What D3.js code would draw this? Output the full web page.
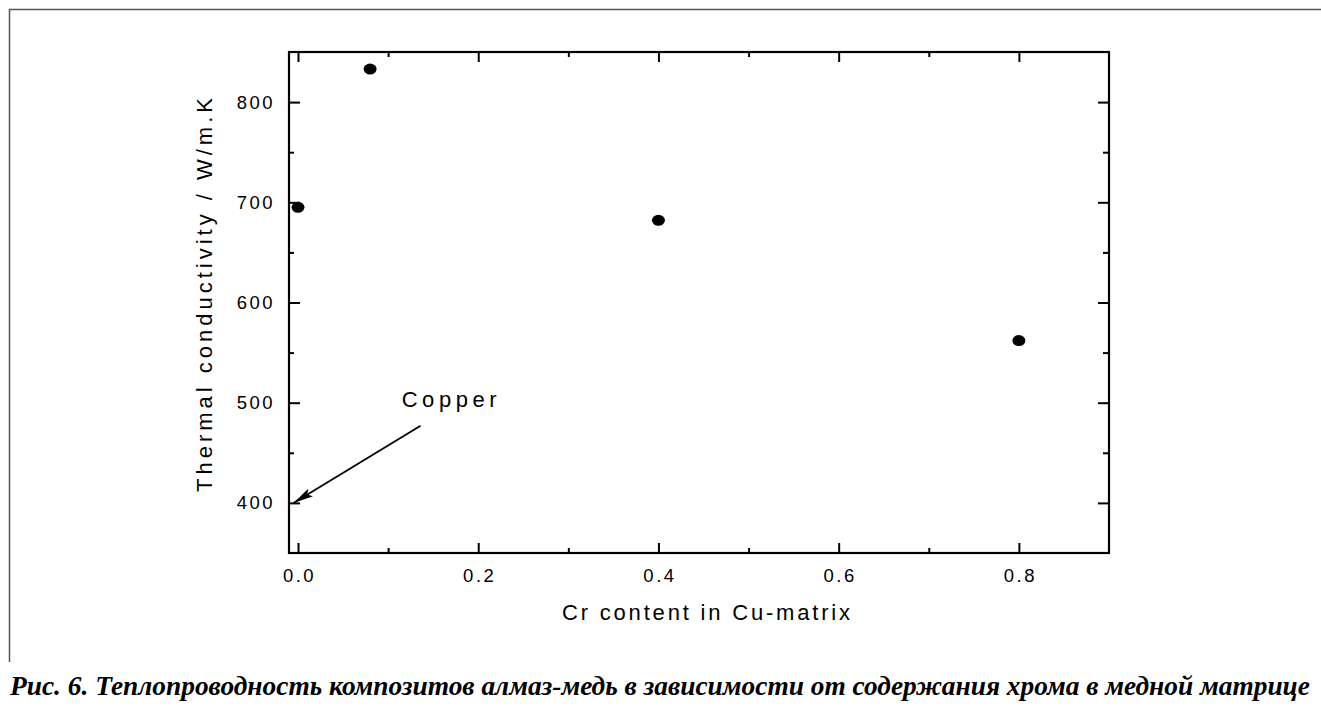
<!DOCTYPE html>
<html>
<head>
<meta charset="utf-8">
<script src="https://d3js.org/d3.v7.min.js"></script>
<style>
  body { margin: 0; background: #fff; }
  #chart text { fill: #000; }
  .tick text { font-family: "Liberation Sans", Arial, sans-serif; font-size: 18.5px; letter-spacing: 2.5px; }
  .axis-title { font-family: "Liberation Sans", Arial, sans-serif; font-size: 22px; }
  .caption { font-family: "Liberation Serif", "Times New Roman", serif; font-size: 27px; font-weight: bold; font-style: italic; }
</style>
</head>
<body>
<div id="chart"></div>
<script>
// values
const crContent = [0.0, 0.08, 0.4, 0.8];
const conductivity = [695, 833, 682, 562];
const xTicks = [0, 0.2, 0.4, 0.6, 0.8];
const xMinorTicks = [0.1, 0.3, 0.5, 0.7];
const yTicks = [400, 500, 600, 700, 800];
const yMinorTicks = [450, 550, 650, 750];
const copperFrom = [0.136, 477];
const copperTo = [-0.005, 400];
const copperLabelAt = [0.115, 496];

const width = 1321, height = 708;
const plotLeft = 289, plotRight = 1109, plotTop = 52, plotBottom = 553;

const svg = d3.select("#chart").append("svg")
  .attr("width", width)
  .attr("height", height);

const x = d3.scaleLinear().domain([-0.01, 0.9]).range([plotLeft, plotRight]);
const y = d3.scaleLinear().domain([350, 850]).range([plotBottom, plotTop]);

// page frame (top + left rule)
svg.append("path")
  .attr("d", `M9.5,662 V9.5 H${width}`)
  .attr("fill", "none")
  .attr("stroke", "#555")
  .attr("stroke-width", 1.5);

// axes: ticks point inward
function drawAxis(axis, transform) {
  const g = svg.append("g").attr("transform", transform).call(axis);
  g.select(".domain").remove();
  g.selectAll(".tick line").attr("stroke", "#000").attr("stroke-width", 2);
  return g;
}

drawAxis(d3.axisBottom(x).tickValues(xTicks).tickFormat(d3.format(".1f"))
  .tickSizeInner(-10).tickSizeOuter(0).tickPadding(16), `translate(0,${plotBottom})`)
  .selectAll("text").attr("dx", "1px");
drawAxis(d3.axisBottom(x).tickValues(xMinorTicks).tickFormat("")
  .tickSizeInner(-5).tickSizeOuter(0), `translate(0,${plotBottom})`);
drawAxis(d3.axisTop(x).tickValues(xTicks).tickFormat("")
  .tickSizeInner(-10).tickSizeOuter(0), `translate(0,${plotTop})`);
drawAxis(d3.axisTop(x).tickValues(xMinorTicks).tickFormat("")
  .tickSizeInner(-5).tickSizeOuter(0), `translate(0,${plotTop})`);

drawAxis(d3.axisLeft(y).tickValues(yTicks).tickFormat(d3.format("d"))
  .tickSizeInner(-11).tickSizeOuter(0).tickPadding(14), `translate(${plotLeft},0)`);
drawAxis(d3.axisLeft(y).tickValues(yMinorTicks).tickFormat("")
  .tickSizeInner(-5).tickSizeOuter(0), `translate(${plotLeft},0)`);
drawAxis(d3.axisRight(y).tickValues(yTicks).tickFormat("")
  .tickSizeInner(-11).tickSizeOuter(0), `translate(${plotRight},0)`);
drawAxis(d3.axisRight(y).tickValues(yMinorTicks).tickFormat("")
  .tickSizeInner(-6).tickSizeOuter(0), `translate(${plotRight},0)`);

// plot frame
svg.append("rect")
  .attr("x", plotLeft).attr("y", plotTop)
  .attr("width", plotRight - plotLeft).attr("height", plotBottom - plotTop)
  .attr("fill", "none").attr("stroke", "#000").attr("stroke-width", 2.2);

// data points
svg.append("g").selectAll("ellipse")
  .data(crContent)
  .join("ellipse")
  .attr("cx", d => x(d))
  .attr("cy", (d, i) => y(conductivity[i]))
  .attr("rx", 6.5)
  .attr("ry", 5.5)
  .attr("fill", "#000");

// "Copper" annotation arrow
svg.append("defs").append("marker")
  .attr("id", "head")
  .attr("markerUnits", "userSpaceOnUse")
  .attr("viewBox", "0 -5 20 10")
  .attr("refX", 20).attr("refY", 0)
  .attr("markerWidth", 20).attr("markerHeight", 10)
  .attr("orient", "auto")
  .append("path")
  .attr("d", "M0,-4.5 L20,0 L0,4.5 L4,0 Z")
  .attr("fill", "#000");

svg.append("line")
  .attr("x1", x(copperFrom[0])).attr("y1", y(copperFrom[1]))
  .attr("x2", x(copperTo[0])).attr("y2", y(copperTo[1]))
  .attr("stroke", "#000").attr("stroke-width", 1.8)
  .attr("marker-end", "url(#head)");

svg.append("text")
  .attr("class", "axis-title")
  .attr("x", x(copperLabelAt[0])).attr("y", y(copperLabelAt[1]))
  .attr("textLength", 95).attr("lengthAdjust", "spacing")
  .text("Copper");

// axis titles
svg.append("text")
  .attr("class", "axis-title")
  .attr("x", 706).attr("y", 620)
  .attr("text-anchor", "middle")
  .attr("textLength", 288).attr("lengthAdjust", "spacing")
  .text("Cr content in Cu-matrix");

svg.append("text")
  .attr("class", "axis-title")
  .attr("transform", "translate(212,295) rotate(-90)")
  .attr("text-anchor", "middle")
  .attr("textLength", 394).attr("lengthAdjust", "spacing")
  .text("Thermal conductivity / W/m.K");

// figure caption
svg.append("text")
  .attr("class", "caption")
  .attr("x", 10).attr("y", 695)
  .attr("textLength", 1300).attr("lengthAdjust", "spacingAndGlyphs")
  .text("Рис. 6. Теплопроводность композитов алмаз-медь в зависимости от содержания хрома в медной матрице");
</script>
</body>
</html>
